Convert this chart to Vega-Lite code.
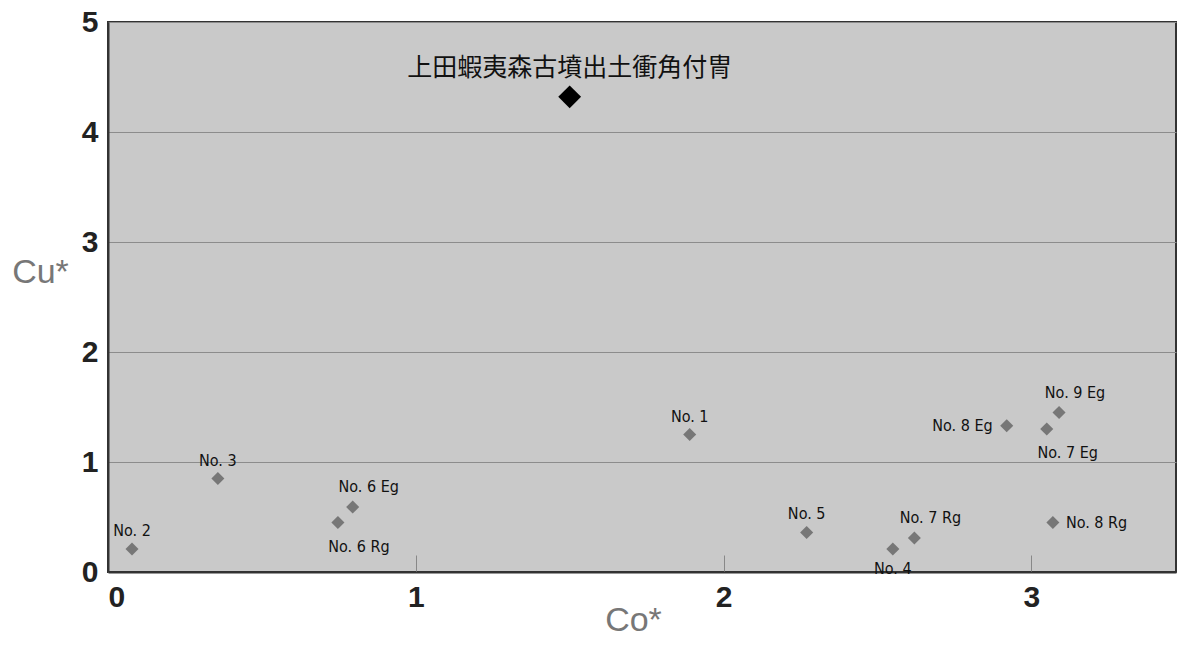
{
  "$schema": "https://vega.github.io/schema/vega-lite/v6.json",
  "autosize": "none",
  "width": 1068,
  "height": 550,
  "padding": {"left": 108, "top": 22, "right": 1, "bottom": 73},
  "background": "white",
  "config": {
    "view": {"fill": "#c9c9c9", "stroke": "#333333", "strokeWidth": 2},
    "axis": {
      "labelFont": "Liberation Sans",
      "labelFontWeight": "bold",
      "labelFontSize": 30,
      "labelColor": "#222222",
      "titleFont": "Liberation Sans",
      "titleFontWeight": "normal",
      "titleFontSize": 34,
      "titleColor": "#777777",
      "domainColor": "#333333",
      "domainWidth": 2
    }
  },
  "data": {
    "values": [
      {"Co": 1.50, "Cu": 4.32, "label": "上田蝦夷森古墳出土衝角付冑", "kind": "target"},
      {"Co": 1.89, "Cu": 1.25, "label": "No. 1", "kind": "comparison"},
      {"Co": 0.078, "Cu": 0.21, "label": "No. 2", "kind": "comparison"},
      {"Co": 0.357, "Cu": 0.85, "label": "No. 3", "kind": "comparison"},
      {"Co": 2.55, "Cu": 0.21, "label": "No. 4", "kind": "comparison"},
      {"Co": 2.27, "Cu": 0.36, "label": "No. 5", "kind": "comparison"},
      {"Co": 0.795, "Cu": 0.59, "label": "No. 6 Eg", "kind": "comparison"},
      {"Co": 0.747, "Cu": 0.45, "label": "No. 6 Rg", "kind": "comparison"},
      {"Co": 3.05, "Cu": 1.30, "label": "No. 7 Eg", "kind": "comparison"},
      {"Co": 2.62, "Cu": 0.31, "label": "No. 7 Rg", "kind": "comparison"},
      {"Co": 2.92, "Cu": 1.33, "label": "No. 8 Eg", "kind": "comparison"},
      {"Co": 3.07, "Cu": 0.45, "label": "No. 8 Rg", "kind": "comparison"},
      {"Co": 3.09, "Cu": 1.45, "label": "No. 9 Eg", "kind": "comparison"}
    ]
  },
  "encoding": {
    "x": {
      "field": "Co", "type": "quantitative",
      "scale": {"domain": [0, 3.47], "nice": false, "zero": false},
      "axis": {
        "title": "Co*", "values": [0, 1, 2, 3], "grid": false,
        "ticks": true, "tickSize": -17, "tickColor": "#888888", "tickWidth": 1,
        "labelPadding": 27, "labelAngle": 0,
        "titleX": 525, "titleY": 48, "titleAlign": "center", "titleBaseline": "middle"
      }
    },
    "y": {
      "field": "Cu", "type": "quantitative",
      "scale": {"domain": [0, 5], "nice": false},
      "axis": {
        "title": "Cu*", "values": [0, 1, 2, 3, 4, 5], "grid": true,
        "gridColor": "#8c8c8c", "gridWidth": 1,
        "ticks": false, "labelPadding": 10,
        "titleAngle": 0, "titleX": -68, "titleY": 250,
        "titleAlign": "center", "titleBaseline": "middle"
      }
    }
  },
  "layer": [
    {
      "transform": [{"filter": {"field": "kind", "equal": "comparison"}}],
      "mark": {"type": "point", "shape": "diamond", "filled": true, "size": 170, "color": "#777777", "opacity": 1}
    },
    {
      "transform": [{"filter": {"field": "kind", "equal": "target"}}],
      "mark": {"type": "point", "shape": "diamond", "filled": true, "size": 520, "color": "#000000", "opacity": 1}
    },
    {
      "transform": [{"filter": {"field": "kind", "equal": "target"}}],
      "mark": {"type": "text", "dy": -29, "align": "center", "baseline": "middle", "font": "Noto Sans CJK JP", "fontSize": 25, "color": "#111111"},
      "encoding": {"text": {"field": "label"}}
    },
    {
      "transform": [{"filter": {"field": "label", "oneOf": ["No. 1", "No. 2", "No. 3", "No. 5"]}}],
      "mark": {"type": "text", "dy": -18, "align": "center", "baseline": "middle", "font": "Liberation Sans Narrow, DejaVu Sans Condensed, sans-serif", "fontSize": 16, "color": "#111111"},
      "encoding": {"text": {"field": "label"}}
    },
    {
      "transform": [{"filter": {"field": "label", "oneOf": ["No. 6 Eg", "No. 7 Rg", "No. 9 Eg"]}}],
      "mark": {"type": "text", "dx": 16, "dy": -20, "align": "center", "baseline": "middle", "font": "Liberation Sans Narrow, DejaVu Sans Condensed, sans-serif", "fontSize": 16, "color": "#111111"},
      "encoding": {"text": {"field": "label"}}
    },
    {
      "transform": [{"filter": {"field": "label", "oneOf": ["No. 6 Rg", "No. 7 Eg"]}}],
      "mark": {"type": "text", "dx": 21, "dy": 24, "align": "center", "baseline": "middle", "font": "Liberation Sans Narrow, DejaVu Sans Condensed, sans-serif", "fontSize": 16, "color": "#111111"},
      "encoding": {"text": {"field": "label"}}
    },
    {
      "transform": [{"filter": {"field": "label", "equal": "No. 4"}}],
      "mark": {"type": "text", "dy": 20, "align": "center", "baseline": "middle", "font": "Liberation Sans Narrow, DejaVu Sans Condensed, sans-serif", "fontSize": 16, "color": "#111111"},
      "encoding": {"text": {"field": "label"}}
    },
    {
      "transform": [{"filter": {"field": "label", "equal": "No. 8 Eg"}}],
      "mark": {"type": "text", "dx": -14, "align": "right", "baseline": "middle", "font": "Liberation Sans Narrow, DejaVu Sans Condensed, sans-serif", "fontSize": 16, "color": "#111111"},
      "encoding": {"text": {"field": "label"}}
    },
    {
      "transform": [{"filter": {"field": "label", "equal": "No. 8 Rg"}}],
      "mark": {"type": "text", "dx": 13, "align": "left", "baseline": "middle", "font": "Liberation Sans Narrow, DejaVu Sans Condensed, sans-serif", "fontSize": 16, "color": "#111111"},
      "encoding": {"text": {"field": "label"}}
    }
  ]
}
